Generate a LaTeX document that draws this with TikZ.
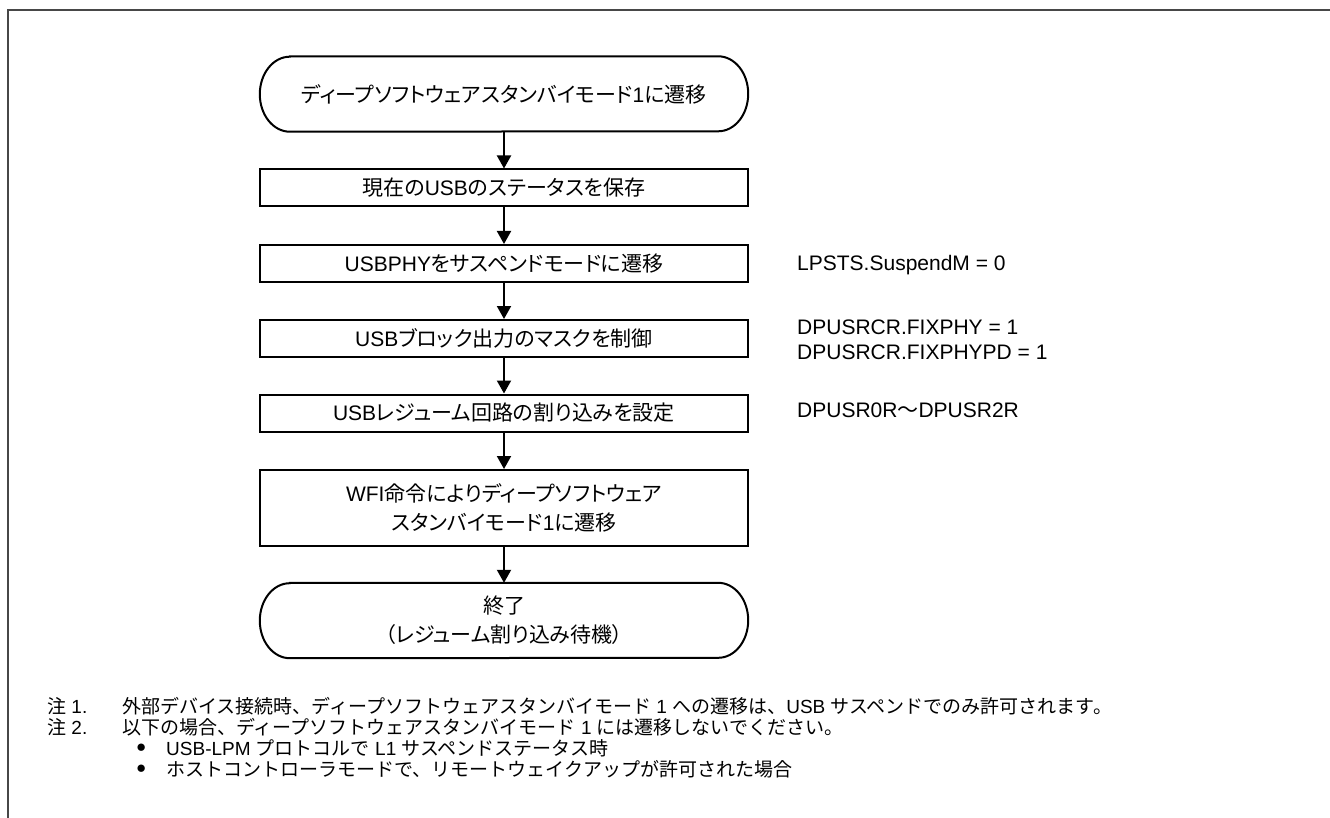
\documentclass[tikz,border=0pt]{standalone}
\usepackage{fontspec}
\setmainfont{Liberation Sans}
\newfontfamily\jpfont{Noto Sans CJK JP}
\newfontfamily\jppfont[RawFeature=+palt]{Noto Sans CJK JP}
\newcommand{\J}[1]{{\jppfont #1}}
\newcommand{\N}[1]{{\jpfont #1}}
\usetikzlibrary{arrows.meta}
\begin{document}
\begin{tikzpicture}[x=1pt,y=-1pt,
  boxtext/.style={font=\fontsize{21}{29}\selectfont},
  procbox/.style={draw, line width=2pt, minimum width=488pt, minimum height=37pt, inner sep=0pt, align=center, boxtext},
  termbox/.style={minimum width=488pt, minimum height=75pt, inner sep=0pt, align=center, boxtext},
  termline/.style={line width=2pt},
  flow/.style={line width=2pt, -{Triangle[width=14pt,length=13pt]}},
  reglabel/.style={anchor=west, align=left, inner sep=0pt, font=\fontsize{21}{25}\selectfont},
  notetext/.style={anchor=west, inner sep=0pt, font=\fontsize{19}{22}\selectfont},
  frameline/.style={line width=2pt, draw=black!72}
]
\useasboundingbox (0,0) rectangle (1330,818);
\draw[frameline] (8,818) -- (8,10) -- (1330,10);

% start terminal
\node[termbox] (start) at (504,94) {\J{ディープソフトウェアスタンバイモード}1\J{に遷移}};
\draw[termline] ([xshift=30pt]start.north west) -- ([xshift=-30pt]start.north east)
  arc[start angle=90, end angle=-90, x radius=30pt, y radius=37.5pt]
  -- ([xshift=30pt]start.south west)
  arc[start angle=270, end angle=90, x radius=30pt, y radius=37.5pt] -- cycle;

\node[procbox] (b1) at (504,188) {\J{現在の}USB\J{のステータスを保存}};
\node[procbox] (b2) at (504,263.5) {USBPHY\J{をサスペンドモードに遷移}};
\node[procbox] (b3) at (504,338.5) {USB\J{ブロック出力のマスクを制御}};
\node[procbox] (b4) at (504,413) {USB\J{レジューム回路の割り込みを設定}};
\node[procbox, minimum height=76pt] (b5) at (504,508) {WFI\J{命令によりディープソフトウェア}\\\J{スタンバイモード}1\J{に遷移}};

% end terminal
\node[termbox] (end) at (504,620.5) {\J{終了}\\\J{（レジューム割り込み待機）}};
\draw[termline] ([xshift=30pt]end.north west) -- ([xshift=-30pt]end.north east)
  arc[start angle=90, end angle=-90, x radius=30pt, y radius=37.5pt]
  -- ([xshift=30pt]end.south west)
  arc[start angle=270, end angle=90, x radius=30pt, y radius=37.5pt] -- cycle;

\draw[flow] (start.south) -- (b1.north);
\draw[flow] (b1.south) -- (b2.north);
\draw[flow] (b2.south) -- (b3.north);
\draw[flow] (b3.south) -- (b4.north);
\draw[flow] (b4.south) -- (b5.north);
\draw[flow] (b5.south) -- (end.north);

% register labels
\node[reglabel] (r1) at (797,265) {LPSTS.SuspendM = 0};
\node[reglabel] (r2) at (797,339.5) {DPUSRCR.FIXPHY = 1\\DPUSRCR.FIXPHYPD = 1};
\node[reglabel] (r3) at (797,410) {DPUSR0R\N{～}DPUSR2R};

% notes
\node[notetext] (n1h) at (47,706) {\N{注} 1.};
\node[notetext] (n1) at (122,706) {\N{外部デバイス接続時、ディープソフトウェアスタンバイモード} 1 \N{への遷移は、}USB \N{サスペンドでのみ許可されます。}};
\node[notetext] (n2h) at (47,727) {\N{注} 2.};
\node[notetext] (n2) at (122,727) {\N{以下の場合、ディープソフトウェアスタンバイモード} 1 \N{には遷移しないでください。}};
\node[notetext] (bul1) at (136,748) {\fontsize{17}{17}\selectfont ●};
\node[notetext] (n3) at (166,748) {USB-LPM \N{プロトコルで} L1 \N{サスペンドステータス時}};
\node[notetext] (bul2) at (136,769) {\fontsize{17}{17}\selectfont ●};
\node[notetext] (n4) at (166,769) {\N{ホストコントローラモードで、リモートウェイクアップが許可された場合}};
\end{tikzpicture}
\end{document}
